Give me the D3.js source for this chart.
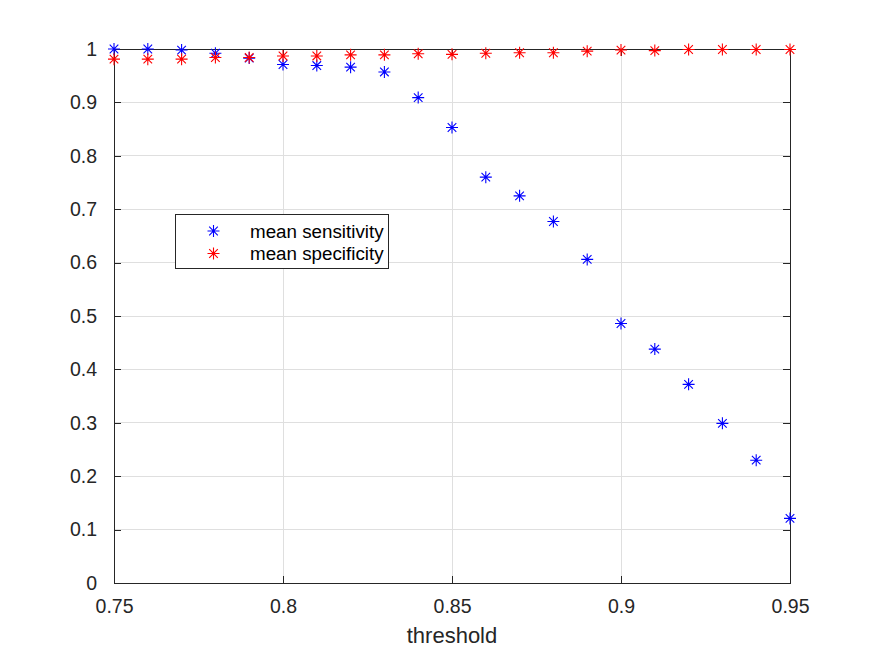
<!DOCTYPE html>
<html>
<head>
<meta charset="utf-8">
<script src="https://cdn.jsdelivr.net/npm/d3@7"></script>
<style>
  body { margin: 0; background: #fff; }
  svg { display: block; font-family: "Liberation Sans", Arial, sans-serif; }
</style>
</head>
<body>
<svg id="chart" width="875" height="656"></svg>
<script>
const thresholds = [0.75, 0.76, 0.77, 0.78, 0.79, 0.80, 0.81, 0.82, 0.83, 0.84, 0.85,
                    0.86, 0.87, 0.88, 0.89, 0.90, 0.91, 0.92, 0.93, 0.94, 0.95];
const sensitivity = [1.000, 1.000, 0.998, 0.992, 0.983, 0.971, 0.969, 0.966, 0.957, 0.909, 0.853,
                     0.760, 0.725, 0.677, 0.606, 0.486, 0.438, 0.372, 0.299, 0.230, 0.121];
const specificity = [0.981, 0.981, 0.981, 0.984, 0.984, 0.987, 0.987, 0.989, 0.989, 0.991, 0.990,
                     0.992, 0.993, 0.993, 0.996, 0.998, 0.997, 0.999, 0.999, 0.999, 0.999];
const xTicks = [0.75, 0.8, 0.85, 0.9, 0.95];
const yTicks = [0, 0.1, 0.2, 0.3, 0.4, 0.5, 0.6, 0.7, 0.8, 0.9, 1];
const seriesNames = ['mean sensitivity', 'mean specificity'];
const seriesColors = ['#0000ff', '#ff0000'];

const margin = { top: 49, right: 85, bottom: 73, left: 114 };
const W = 875, H = 656;
const width = W - margin.left - margin.right;
const height = H - margin.top - margin.bottom;
const axisColor = '#262626';
const gridColor = '#dfdfdf';

const svg = d3.select('#chart');
const g = svg.append('g').attr('transform', `translate(${margin.left},${margin.top})`);

const x = d3.scaleLinear().domain([0.75, 0.95]).range([0, width]);
const y = d3.scaleLinear().domain([0, 1]).range([height, 0]);

// Grid
g.append('g').selectAll('line').data(xTicks).join('line')
    .attr('x1', d => x(d)).attr('x2', d => x(d))
    .attr('y1', 0).attr('y2', height)
    .attr('stroke', gridColor).attr('stroke-width', 1)
    .attr('shape-rendering', 'crispEdges');
g.append('g').selectAll('line').data(yTicks).join('line')
    .attr('x1', 0).attr('x2', width)
    .attr('y1', d => y(d)).attr('y2', d => y(d))
    .attr('stroke', gridColor).attr('stroke-width', 1)
    .attr('shape-rendering', 'crispEdges');

// Axes (ticks inward, mirrored on top/right)
const tickLen = 7;
const fmt = d => String(+d.toFixed(2));

const xAxis = g.append('g').attr('transform', `translate(0,${height})`)
    .call(d3.axisBottom(x).tickValues(xTicks).tickSize(-tickLen).tickPadding(tickLen + 9).tickFormat(fmt));
const yAxis = g.append('g')
    .call(d3.axisLeft(y).tickValues(yTicks).tickSize(-tickLen).tickPadding(tickLen + 10).tickFormat(fmt));
const xTop = g.append('g')
    .call(d3.axisTop(x).tickValues(xTicks).tickSize(-tickLen).tickFormat(''));
const yRight = g.append('g').attr('transform', `translate(${width},0)`)
    .call(d3.axisRight(y).tickValues(yTicks).tickSize(-tickLen).tickFormat(''));

[xAxis, yAxis, xTop, yRight].forEach(a => {
    a.select('.domain').attr('stroke', axisColor).attr('stroke-width', 1).attr('shape-rendering', 'crispEdges');
    a.selectAll('.tick line').attr('stroke', axisColor).attr('shape-rendering', 'crispEdges');
    a.selectAll('.tick text').attr('fill', axisColor).attr('font-size', '19.5px')
        .attr('font-family', '"Liberation Sans", Arial, sans-serif');
});

// Asterisk marker
const r = 6, rd = 4.3;
const asterisk = `M${-r},0H${r}M0,${-r}V${r}M${-rd},${-rd}L${rd},${rd}M${-rd},${rd}L${rd},${-rd}`;

const series = [sensitivity, specificity];
series.forEach((vals, i) => {
    g.append('g').selectAll('path').data(thresholds).join('path')
        .attr('transform', (d, j) => `translate(${x(d)},${y(vals[j])})`)
        .attr('d', asterisk)
        .attr('fill', 'none')
        .attr('stroke', seriesColors[i])
        .attr('stroke-width', 1.1);
});

// X label
g.append('text')
    .attr('x', width / 2).attr('y', height + 60)
    .attr('text-anchor', 'middle')
    .attr('font-size', '22px').attr('fill', axisColor)
    .text('threshold');

// Legend
const legend = svg.append('g').attr('transform', 'translate(175.5,214.5)');
legend.append('rect')
    .attr('width', 213).attr('height', 54)
    .attr('fill', '#fff').attr('stroke', axisColor).attr('stroke-width', 1);
seriesNames.forEach((name, i) => {
    const ly = 16.5 + i * 22.5;
    legend.append('path')
        .attr('transform', `translate(38,${ly})`)
        .attr('d', asterisk)
        .attr('fill', 'none').attr('stroke', seriesColors[i]).attr('stroke-width', 1.1);
    legend.append('text')
        .attr('x', 74.5).attr('y', ly)
        .attr('dy', '0.35em')
        .attr('font-size', '18.8px').attr('fill', '#000')
        .text(name);
});
</script>
</body>
</html>
